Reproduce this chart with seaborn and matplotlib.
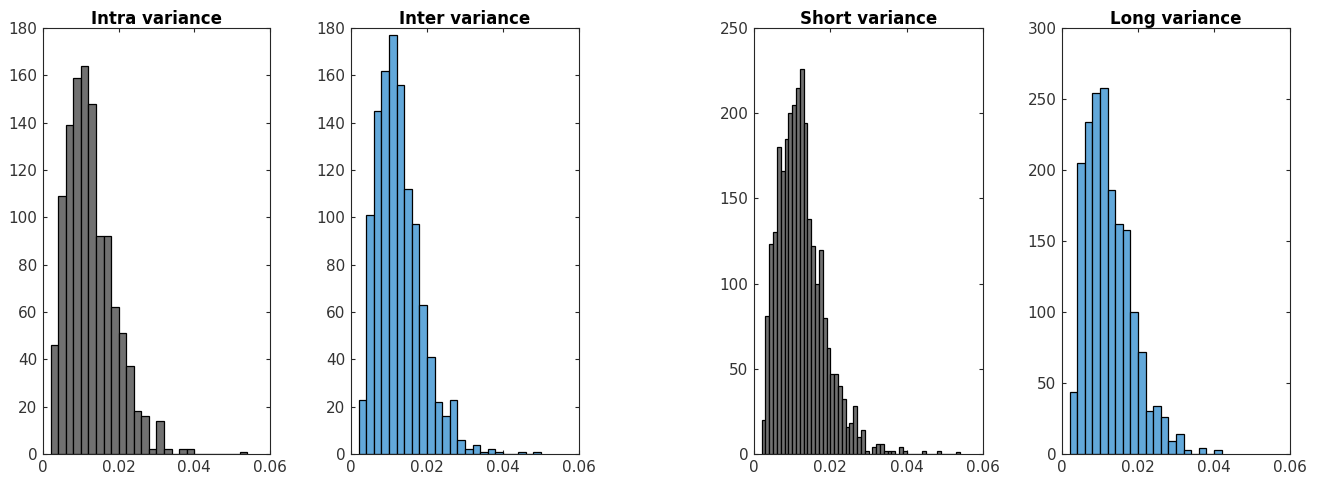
import numpy as np
import pandas as pd
import matplotlib
matplotlib.use("Agg")
import matplotlib.pyplot as plt
import seaborn as sns

# ---- data (counts per bin) ----
titles = ["Intra variance", "Inter variance", "Short variance", "Long variance"]

intra_counts = [46, 109, 139, 159, 164, 148, 92, 92, 62, 51, 37, 18, 16, 2, 14, 2,
                0, 2, 2, 0, 0, 0, 0, 0, 0, 1]
inter_counts = [23, 101, 145, 162, 177, 156, 112, 97, 63, 41, 22, 16, 23, 6, 2, 4,
                1, 2, 1, 0, 0, 1, 0, 1]
short_counts = [20, 81, 123, 130, 180, 166, 185, 200, 205, 215, 226, 194, 138, 122,
                100, 120, 80, 62, 47, 47, 40, 32, 16, 18, 28, 10, 14, 2, 0, 4, 6, 6,
                2, 2, 2, 0, 4, 2, 0, 0, 0, 0, 2, 0, 0, 0, 2, 0, 0, 0, 0, 1]
long_counts = [44, 205, 234, 254, 258, 186, 162, 158, 100, 72, 30, 34, 26, 9, 14, 3,
               0, 4, 0, 3]

bin_start = [0.002, 0.002, 0.002, 0.002]
bin_width = [0.002, 0.002, 0.001, 0.002]
y_max = [180, 180, 250, 300]
y_step = [20, 20, 50, 50]
x_ticks = [0, 0.02, 0.04, 0.06]
x_tick_labels = ["0", "0.02", "0.04", "0.06"]

gray_color = "#717171"
blue_color = "#62A8DA"
colors = [gray_color, blue_color, gray_color, blue_color]

all_counts = [intra_counts, inter_counts, short_counts, long_counts]

sns.set_theme(style="white")
plt.rcParams["font.family"] = ["DejaVu Sans"]

W, H = 1328, 483
fig = plt.figure(figsize=(W / 100, H / 100), dpi=100)

# axes boxes in pixels: (left, right, top, bottom)
boxes = [(43, 270, 28, 454), (351, 579, 28, 454), (754, 983, 28, 454), (1062, 1290, 28, 454)]

axis_col = "#262626"
for i in range(4):
    l, r, t, b = boxes[i]
    ax = fig.add_axes([l / W, (H - b) / H, (r - l) / W, (b - t) / H])
    counts = np.array(all_counts[i], dtype=float)
    n = len(counts)
    edges = bin_start[i] + bin_width[i] * np.arange(n + 1)
    centers = (edges[:-1] + edges[1:]) / 2
    df = pd.DataFrame({"v": centers, "w": counts})
    sns.histplot(data=df, x="v", weights="w", binwidth=bin_width[i],
                 binrange=(float(edges[0]), float(edges[-1])), ax=ax,
                 color=colors[i], alpha=1.0, edgecolor="black", linewidth=0.9)
    ax.set_xlim(0, 0.06)
    ax.set_ylim(0, y_max[i])
    ax.set_xticks(x_ticks)
    ax.set_xticklabels(x_tick_labels)
    ax.set_yticks(np.arange(0, y_max[i] + 1, y_step[i]))
    ax.set_xlabel("")
    ax.set_ylabel("")
    ax.tick_params(direction="in", length=3, width=0.8, colors=axis_col,
                   labelsize=11, top=True, right=True, bottom=True, left=True,
                   labelcolor="#333333", pad=4)
    for s in ax.spines.values():
        s.set_visible(True)
        s.set_color(axis_col)
        s.set_linewidth(0.8)
    ax.set_title(titles[i], fontsize=12, fontweight="bold", color="black", pad=3)

fig.savefig("out.png", dpi=100, facecolor="white")
